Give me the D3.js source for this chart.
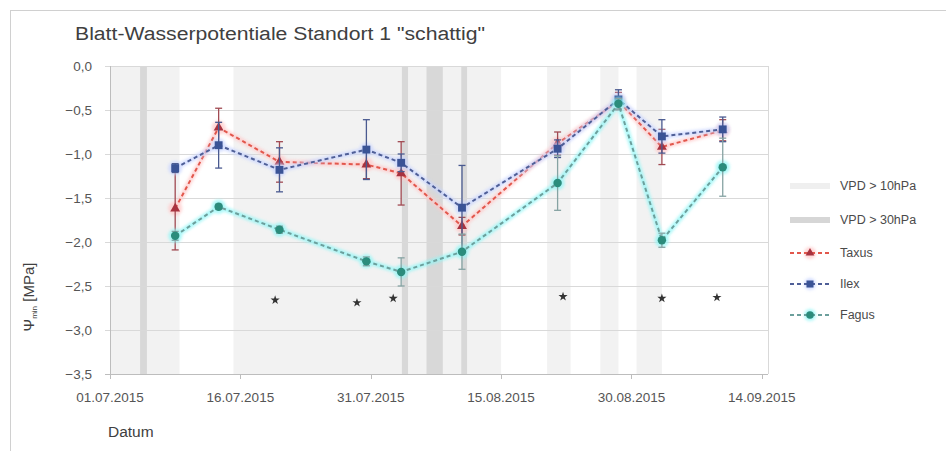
<!DOCTYPE html>
<html><head><meta charset="utf-8">
<script src="https://cdn.jsdelivr.net/npm/d3@7"></script>
<style>
body{margin:0;background:#fff;}
svg{display:block;font-family:"Liberation Sans",Arial,sans-serif;}
</style></head><body>
<svg id="c" width="946" height="451"></svg>
<script>
// ---------- data ----------
const sampleDates = ["08.07.2015 12:00","13.07.2015 12:00","20.07.2015 12:00","30.07.2015 12:00","03.08.2015 12:00",
                     "10.08.2015 12:00","21.08.2015 12:00","28.08.2015 12:00","02.09.2015 12:00","09.09.2015 12:00"];
const taxus    = [-1.62,-0.70,-1.09,-1.12,-1.22,-1.82,-0.88,-0.40,-0.92,-0.73];
const taxusErr = [ 0.47, 0.22, 0.23, 0.16, 0.36, 0.10, 0.13, 0.10, 0.20, 0.12];
const ilex     = [-1.16,-0.90,-1.18,-0.95,-1.10,-1.61,-0.94,-0.38,-0.80,-0.72];
const ilexErr  = [ 0.05, 0.26, 0.25, 0.34, 0.10, 0.48, 0.10, 0.11, 0.19, 0.14];
const fagus    = [-1.93,-1.60,-1.86,-2.22,-2.34,-2.11,-1.33,-0.43,-1.98,-1.15];
const fagusErr = [ 0.05, 0.03, 0.04, 0.05, 0.16, 0.20, 0.31, 0.06, 0.08, 0.33];

const sigDates  = ["20.07.2015 00:00","29.07.2015 10:00","02.08.2015 14:00","22.08.2015 03:00","02.09.2015 12:00","08.09.2015 20:00"];
const sigValues = [-2.66,-2.69,-2.64,-2.62,-2.64,-2.63];

const vpd10Start = ["01.07.2015 00:00","15.07.2015 05:00","20.08.2015 07:00","26.08.2015 10:00","30.08.2015 14:00"];
const vpd10End   = ["09.07.2015 00:00","15.08.2015 00:00","23.08.2015 00:00","28.08.2015 12:00","02.09.2015 12:00"];
const vpd30Start = ["04.07.2015 11:00","03.08.2015 14:00","06.08.2015 10:00","10.08.2015 10:00"];
const vpd30End   = ["05.07.2015 06:00","04.08.2015 07:00","08.08.2015 07:00","11.08.2015 02:00"];

const xTickLabels = ["01.07.2015","16.07.2015","31.07.2015","15.08.2015","30.08.2015","14.09.2015"];
const yTicks = [0,-0.5,-1,-1.5,-2,-2.5,-3,-3.5];
const seriesNames = ["Taxus","Ilex","Fagus"];

// ---------- setup ----------
const parse = d3.timeParse("%d.%m.%Y %H:%M");
const parseDay = d3.timeParse("%d.%m.%Y");
const svg = d3.select("#c");
const L = 110, R = 768, T = 66, B = 374;
const x = d3.scaleTime().domain([parseDay("01.07.2015"), parse("14.09.2015 17:00")]).range([L, R]);
const y = d3.scaleLinear().domain([-3.5, 0]).range([B, T]);
const fmt = d3.format(".1f");

svg.append("rect").attr("width",946).attr("height",451).attr("fill","#fff");
svg.append("rect").attr("x",10.5).attr("y",10.5).attr("width",960).attr("height",460)
   .attr("fill","none").attr("stroke","#d0d0d0");

const defs = svg.append("defs");
defs.append("filter").attr("id","glow").attr("x","-50%").attr("y","-50%").attr("width","200%").attr("height","200%")
  .append("feGaussianBlur").attr("stdDeviation",1.8);

// bands
svg.append("g").selectAll("rect").data(vpd10Start).join("rect")
  .attr("x", (d,i)=>x(parse(d))).attr("width",(d,i)=>x(parse(vpd10End[i]))-x(parse(d)))
  .attr("y",T).attr("height",B-T).attr("fill","#f2f2f2");
svg.append("g").selectAll("rect").data(vpd30Start).join("rect")
  .attr("x", (d,i)=>x(parse(d))).attr("width",(d,i)=>x(parse(vpd30End[i]))-x(parse(d)))
  .attr("y",T).attr("height",B-T).attr("fill","#d8d8d8");

// gridlines
svg.append("g").selectAll("line").data(yTicks).join("line")
  .attr("x1",L-5).attr("x2",R).attr("y1",d=>y(d)+0.5).attr("y2",d=>y(d)+0.5)
  .attr("stroke",d=>d===-3.5?"#bdbdbd":"#d9d9d9").attr("stroke-width",1);
svg.append("line").attr("x1",R+0.5).attr("x2",R+0.5).attr("y1",T).attr("y2",B).attr("stroke","#d9d9d9");
svg.append("line").attr("x1",L+0.5).attr("x2",L+0.5).attr("y1",T).attr("y2",B).attr("stroke","#bdbdbd");

// y tick labels
svg.append("g").selectAll("text").data(yTicks).join("text")
  .attr("x",92).attr("y",d=>y(d)+5).attr("text-anchor","end")
  .attr("font-size",13.5).attr("fill","#555")
  .text(d=>fmt(d).replace(".",",").replace("-0,0","0,0"));

// x axis ticks + labels
const xTicks = xTickLabels.map(s=>parseDay(s));
svg.append("g").selectAll("line").data(xTicks).join("line")
  .attr("x1",d=>Math.round(x(d))+0.5).attr("x2",d=>Math.round(x(d))+0.5)
  .attr("y1",B).attr("y2",B+5).attr("stroke","#bdbdbd");
svg.append("g").selectAll("text").data(xTicks).join("text")
  .attr("x",d=>x(d)).attr("y",B+28).attr("text-anchor","middle")
  .attr("font-size",13.5).attr("fill","#555")
  .text((d,i)=>xTickLabels[i]);

// title & axis labels
svg.append("text").attr("x",75).attr("y",40).attr("font-size",18).attr("fill","#404040")
  .attr("textLength",410).attr("lengthAdjust","spacingAndGlyphs")
  .text('Blatt-Wasserpotentiale Standort 1 "schattig"');
svg.append("text").attr("x",108).attr("y",437).attr("font-size",15.5).attr("fill","#404040").text("Datum");
const yl = svg.append("text").attr("transform","translate(34,297) rotate(-90)")
  .attr("text-anchor","middle").attr("font-size",15).attr("fill","#404040");
yl.append("tspan").text("Ψ");
yl.append("tspan").attr("font-size",8).attr("dy",3).text("min");
yl.append("tspan").attr("dy",-3).text(" [MPa]");

// series
const dates = sampleDates.map(parse);
const series = [
  {name:"Taxus", v:taxus, e:taxusErr, line:"#e2574c", mark:"#a8323f", err:"#a14a52", glow:"#ffc8c8", sym:d3.symbolTriangle, size:42},
  {name:"Ilex",  v:ilex,  e:ilexErr,  line:"#4f5f97", mark:"#3a5396", err:"#4a5a90", glow:"#c8d4ff", sym:d3.symbolSquare, size:62},
  {name:"Fagus", v:fagus, e:fagusErr, line:"#6c9f9c", mark:"#2b8c7c", err:"#86a3a3", glow:"#8ff6f6", sym:d3.symbolCircle, size:56}
];
const lineGen = d3.line().x(d=>x(d[0])).y(d=>y(d[1]));

series.forEach(s=>{
  const g = svg.append("g");
  const pts = dates.map((d,i)=>[d,s.v[i],s.e[i]]);
  const gg = g.append("g").attr("filter","url(#glow)").attr("opacity",0.75);
  gg.append("path").attr("d",lineGen(pts)).attr("fill","none").attr("stroke",s.glow).attr("stroke-width",5);
  gg.selectAll("circle").data(pts).join("circle").attr("cx",d=>x(d[0])).attr("cy",d=>y(d[1])).attr("r",7).attr("fill",s.glow);
  const eb = g.append("g").attr("stroke",s.err).attr("stroke-width",1.3);
  pts.forEach(p=>{
    const cx = x(p[0]), y1 = y(p[1]+p[2]), y2 = y(p[1]-p[2]);
    eb.append("line").attr("x1",cx).attr("x2",cx).attr("y1",y1).attr("y2",y2);
    eb.append("line").attr("x1",cx-3.5).attr("x2",cx+3.5).attr("y1",y1).attr("y2",y1);
    eb.append("line").attr("x1",cx-3.5).attr("x2",cx+3.5).attr("y1",y2).attr("y2",y2);
  });
  g.append("path").attr("d",lineGen(pts)).attr("fill","none").attr("stroke",s.line)
    .attr("stroke-width",2).attr("stroke-dasharray","4,3");
  g.selectAll(".m").data(pts).join("path").attr("class","m")
    .attr("transform",d=>`translate(${x(d[0])},${y(d[1])})`)
    .attr("d",d3.symbol().type(s.sym).size(s.size)).attr("fill",s.mark);
});

// significance markers
svg.append("g").selectAll("path").data(sigDates).join("path")
  .attr("transform",(d,i)=>`translate(${x(parse(d))},${y(sigValues[i])})`)
  .attr("d",d3.symbol().type(d3.symbolStar).size(26)).attr("fill","#333");

// legend
const lg = svg.append("g").attr("font-size",12.5).attr("fill","#4a4a4a");
const lx = 790, tx = 840;
const rows = [186,220,253,284,315];
lg.append("rect").attr("x",lx).attr("y",rows[0]-3).attr("width",40).attr("height",6).attr("fill","#efefef");
lg.append("text").attr("x",tx).attr("y",rows[0]+4).text("VPD > 10hPa");
lg.append("rect").attr("x",lx).attr("y",rows[1]-3).attr("width",40).attr("height",6).attr("fill","#d6d6d6");
lg.append("text").attr("x",tx).attr("y",rows[1]+4).text("VPD > 30hPa");
series.forEach((s,i)=>{
  const yy = rows[i+2];
  lg.append("circle").attr("cx",lx+20).attr("cy",yy).attr("r",6).attr("fill",s.glow).attr("filter","url(#glow)").attr("opacity",0.75);
  lg.append("line").attr("x1",lx).attr("x2",lx+40).attr("y1",yy).attr("y2",yy)
    .attr("stroke",s.line).attr("stroke-width",2).attr("stroke-dasharray","4,3");
  lg.append("path").attr("transform",`translate(${lx+20},${yy})`)
    .attr("d",d3.symbol().type(s.sym).size(s.size*0.8)).attr("fill",s.mark);
  lg.append("text").attr("x",tx).attr("y",yy+4).text(seriesNames[i]);
});
</script>
</body></html>
